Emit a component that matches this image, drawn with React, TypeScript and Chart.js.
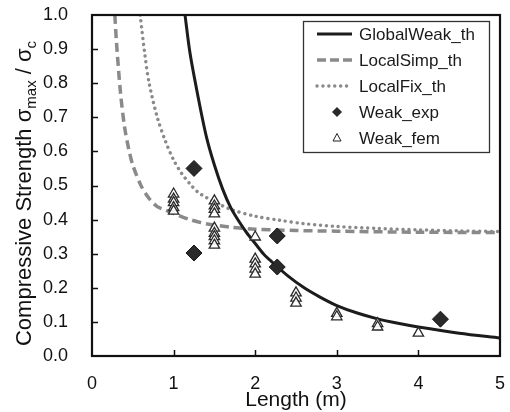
import React, { useEffect, useRef } from "react";
import { Chart, registerables } from "chart.js";

Chart.register(...registerables);

// ---- Data ----
const globalWeakL = [1.14, 1.2, 1.3, 1.4, 1.5, 1.6, 1.7, 1.8, 1.9, 2.0, 2.1, 2.2, 2.4, 2.6, 2.8, 3.0, 3.25, 3.5, 3.75, 4.0, 4.5, 5.0];
const globalWeakV = [1.0, 0.89, 0.76, 0.645, 0.56, 0.49, 0.435, 0.395, 0.36, 0.33, 0.3, 0.277, 0.235, 0.2, 0.172, 0.148, 0.126, 0.109, 0.096, 0.085, 0.067, 0.053];

const localSimpL = [0.28, 0.3, 0.35, 0.4, 0.45, 0.5, 0.6, 0.7, 0.8, 0.9, 1.0, 1.2, 1.4, 1.7, 2.0, 2.5, 3.0, 4.0, 5.0];
const localSimpV = [1.0, 0.92, 0.77, 0.67, 0.607, 0.56, 0.5, 0.462, 0.438, 0.428, 0.418, 0.4, 0.388, 0.378, 0.372, 0.368, 0.366, 0.363, 0.362];

const localFixL = [0.59, 0.65, 0.7, 0.8, 0.9, 1.0, 1.1, 1.2, 1.3, 1.4, 1.5, 1.7, 2.0, 2.3, 2.6, 3.0, 3.5, 4.0, 4.5, 5.0];
const localFixV = [1.0, 0.88, 0.8, 0.7, 0.63, 0.575, 0.535, 0.505, 0.48, 0.465, 0.452, 0.43, 0.41, 0.398, 0.388, 0.38, 0.374, 0.37, 0.367, 0.365];

const weakExpL = [1.25, 1.25, 2.27, 2.27, 4.27];
const weakExpV = [0.55, 0.302, 0.352, 0.261, 0.108];

const weakFemL = [1, 1, 1, 1, 1, 1.5, 1.5, 1.5, 1.5, 1.5, 1.5, 1.5, 1.5, 1.5, 2, 2, 2, 2, 2, 2.5, 2.5, 2.5, 3, 3, 3.5, 3.5, 4];
const weakFemV = [0.475, 0.46, 0.45, 0.435, 0.425, 0.455, 0.44, 0.43, 0.417, 0.375, 0.36, 0.35, 0.338, 0.325, 0.349, 0.284, 0.27, 0.255, 0.24, 0.185, 0.17, 0.155, 0.125, 0.115, 0.095, 0.085, 0.067];

const seriesNames = ["GlobalWeak_th", "LocalSimp_th", "LocalFix_th", "Weak_exp", "Weak_fem"];
const xTicks = [0, 1, 2, 3, 4, 5];
const yTicks = [0, 0.1, 0.2, 0.3, 0.4, 0.5, 0.6, 0.7, 0.8, 0.9, 1.0];
const xTitle = "Length (m)";
const yTitleParts = [
  { t: "Compressive Strength ", sub: false },
  { t: "σ", sub: false },
  { t: "max", sub: true },
  { t: " / ", sub: false },
  { t: "σ", sub: false },
  { t: "c", sub: true },
];

const FONT = "'Liberation Sans', Arial, Helvetica, sans-serif";
const toPts = (xs: number[], ys: number[]) => xs.map((x, i) => ({ x, y: ys[i] }));

const decorPlugin = {
  id: "decor",
  afterDraw(chart: any) {
    const { ctx, chartArea } = chart;
    const xs = chart.scales.x;
    const ys = chart.scales.y;
    ctx.save();
    // inward ticks
    ctx.strokeStyle = "#111";
    ctx.lineWidth = 1.5;
    ctx.beginPath();
    xTicks.forEach((v) => {
      if (v <= 0 || v >= 5) return;
      const px = Math.round(xs.getPixelForValue(v)) + 0.5;
      ctx.moveTo(px, chartArea.bottom);
      ctx.lineTo(px, chartArea.bottom - 6);
    });
    yTicks.forEach((v) => {
      if (v <= 0 || v >= 1) return;
      const py = Math.round(ys.getPixelForValue(v)) + 0.5;
      ctx.moveTo(chartArea.left, py);
      ctx.lineTo(chartArea.left + 6, py);
    });
    ctx.stroke();
    // frame
    ctx.lineWidth = 2.2;
    ctx.strokeStyle = "#111";
    ctx.strokeRect(chartArea.left, chartArea.top, chartArea.right - chartArea.left, chartArea.bottom - chartArea.top);

    // x title
    ctx.fillStyle = "#111";
    ctx.font = `21px ${FONT}`;
    ctx.textAlign = "center";
    ctx.textBaseline = "alphabetic";
    ctx.fillText(xTitle, (chartArea.left + chartArea.right) / 2, 406);

    // y title (rotated, with subscripts)
    const big = `22px ${FONT}`;
    const small = `15px ${FONT}`;
    let total = 0;
    const widths = yTitleParts.map((p) => {
      ctx.font = p.sub ? small : big;
      const w = ctx.measureText(p.t).width;
      total += w;
      return w;
    });
    ctx.translate(31, (chartArea.top + chartArea.bottom) / 2 + 8);
    ctx.rotate(-Math.PI / 2);
    ctx.textAlign = "left";
    let cx = -total / 2;
    yTitleParts.forEach((p, i) => {
      ctx.font = p.sub ? small : big;
      ctx.fillText(p.t, cx, p.sub ? 5 : 0);
      cx += widths[i];
    });
    ctx.restore();

    // legend
    ctx.save();
    const bx = 303, by = 21, bw = 186, bh = 131;
    ctx.fillStyle = "#fff";
    ctx.fillRect(bx, by, bw, bh);
    ctx.strokeStyle = "#333";
    ctx.lineWidth = 1.3;
    ctx.strokeRect(bx + 0.5, by + 0.5, bw, bh);
    const rows = [34, 60, 86, 112, 138];
    chart.data.datasets.forEach((ds: any, i: number) => {
      const y = rows[i];
      ctx.save();
      if (i < 3) {
        ctx.strokeStyle = ds.borderColor;
        ctx.lineWidth = ds.borderWidth;
        ctx.lineCap = ds.borderCapStyle || "butt";
        ctx.setLineDash(i === 1 ? [9, 4] : ds.borderDash || []);
        ctx.beginPath();
        ctx.moveTo(317, y);
        ctx.lineTo(352, y);
        ctx.stroke();
      } else if (i === 3) {
        ctx.fillStyle = ds.backgroundColor;
        ctx.beginPath();
        ctx.moveTo(337, y - 5);
        ctx.lineTo(342, y);
        ctx.lineTo(337, y + 5);
        ctx.lineTo(332, y);
        ctx.closePath();
        ctx.fill();
      } else {
        ctx.strokeStyle = "#222";
        ctx.lineWidth = 1;
        ctx.beginPath();
        ctx.moveTo(337, y - 4.5);
        ctx.lineTo(341, y + 3);
        ctx.lineTo(333, y + 3);
        ctx.closePath();
        ctx.stroke();
      }
      ctx.restore();
      ctx.fillStyle = "#1a1a1a";
      ctx.font = `17px ${FONT}`;
      ctx.textAlign = "left";
      ctx.textBaseline = "middle";
      ctx.fillText(ds.label, 359, y + 1);
    });
    ctx.restore();
  },
};

export default function App() {
  const ref = useRef<HTMLCanvasElement | null>(null);
  useEffect(() => {
    document.body.style.margin = "0";
    if (!ref.current) return;
    const chart = new Chart(ref.current, {
      type: "scatter",
      data: {
        datasets: [
          {
            label: seriesNames[0],
            data: toPts(globalWeakL, globalWeakV),
            showLine: true,
            pointRadius: 0,
            borderColor: "#1c1c1c",
            borderWidth: 3,
            tension: 0.3,
            order: 2,
          },
          {
            label: seriesNames[1],
            data: toPts(localSimpL, localSimpV),
            showLine: true,
            pointRadius: 0,
            borderColor: "#8a8a8a",
            borderWidth: 3.5,
            borderDash: [9, 5],
            tension: 0.3,
            order: 3,
          },
          {
            label: seriesNames[2],
            data: toPts(localFixL, localFixV),
            showLine: true,
            pointRadius: 0,
            borderColor: "#8a8a8a",
            borderWidth: 3.4,
            borderDash: [0.1, 5.8],
            borderCapStyle: "round",
            tension: 0.3,
            order: 4,
          },
          {
            label: seriesNames[3],
            data: toPts(weakExpL, weakExpV),
            showLine: false,
            pointStyle: "rectRot",
            pointRadius: 8,
            backgroundColor: "#2a2a2a",
            borderColor: "#151515",
            borderWidth: 1,
            order: 0,
          },
          {
            label: seriesNames[4],
            data: toPts(weakFemL, weakFemV),
            showLine: false,
            pointStyle: "triangle",
            pointRadius: 6,
            backgroundColor: "rgba(255,255,255,0.9)",
            borderColor: "#2a2a2a",
            borderWidth: 1.3,
            order: 1,
          },
        ],
      } as any,
      options: {
        responsive: false,
        animation: false,
        devicePixelRatio: 1,
        layout: { padding: { left: 0, right: 10, top: 15, bottom: 0 } },
        plugins: { legend: { display: false }, tooltip: { enabled: false } },
        scales: {
          x: {
            type: "linear",
            min: 0,
            max: 5,
            afterBuildTicks: (s: any) => {
              s.ticks = xTicks.map((v) => ({ value: v }));
            },
            afterFit: (s: any) => {
              s.height = 56;
              s.paddingLeft = 0;
              s.paddingRight = 0;
            },
            grid: { display: false },
            border: { display: false },
            ticks: {
              padding: 9,
              color: "#111",
              font: { family: FONT, size: 18 },
              callback: (v: any) => String(v),
              maxRotation: 0,
            },
          },
          y: {
            type: "linear",
            min: 0,
            max: 1,
            afterBuildTicks: (s: any) => {
              s.ticks = yTicks.map((v) => ({ value: v }));
            },
            afterFit: (s: any) => {
              s.width = 92;
              s.paddingTop = 0;
              s.paddingBottom = 0;
            },
            grid: { display: false },
            border: { display: false },
            ticks: {
              padding: 16,
              color: "#111",
              font: { family: FONT, size: 18 },
              callback: (v: any) => Number(v).toFixed(1),
            },
          },
        },
      } as any,
      plugins: [decorPlugin],
    });
    return () => chart.destroy();
  }, []);
  return <canvas ref={ref} width={510} height={412} style={{ display: "block" }} />;
}
